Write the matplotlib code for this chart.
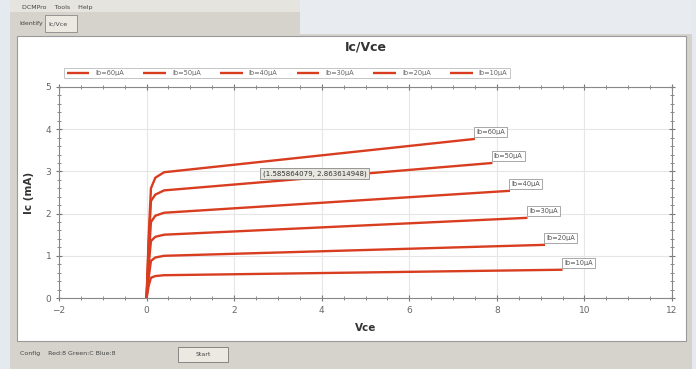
import matplotlib
matplotlib.use("Agg")
import matplotlib.pyplot as plt
from matplotlib.patches import Rectangle
from matplotlib.ticker import MultipleLocator

W, H = 696, 369

# ---- data ----
labels = ["Ib=60µA", "Ib=50µA", "Ib=40µA", "Ib=30µA", "Ib=20µA", "Ib=10µA"]
vce_60 = [0, 0.05, 0.1, 0.2, 0.4, 7.5]
ic_60 = [0, 1.5, 2.6, 2.85, 2.98, 3.77]
vce_50 = [0, 0.05, 0.1, 0.2, 0.4, 7.9]
ic_50 = [0, 1.3, 2.3, 2.45, 2.55, 3.2]
vce_40 = [0, 0.05, 0.1, 0.2, 0.4, 8.3]
ic_40 = [0, 1.0, 1.8, 1.95, 2.02, 2.54]
vce_30 = [0, 0.05, 0.1, 0.2, 0.4, 8.7]
ic_30 = [0, 0.8, 1.35, 1.45, 1.5, 1.9]
vce_20 = [0, 0.05, 0.1, 0.2, 0.4, 9.1]
ic_20 = [0, 0.5, 0.88, 0.96, 1.0, 1.26]
vce_10 = [0, 0.05, 0.1, 0.2, 0.4, 9.5]
ic_10 = [0, 0.3, 0.48, 0.52, 0.54, 0.67]
series_vce = [vce_60, vce_50, vce_40, vce_30, vce_20, vce_10]
series_ic = [ic_60, ic_50, ic_40, ic_30, ic_20, ic_10]
tooltip = "(1.585864079, 2.863614948)"

fig = plt.figure(figsize=(W / 100, H / 100), dpi=100)
fig.patch.set_facecolor("#e4eaf0")

def px_rect(x0, y0, x1, y1, **kw):
    r = Rectangle((x0 / W, 1 - y1 / H), (x1 - x0) / W, (y1 - y0) / H,
                  transform=fig.transFigure, zorder=-5, **kw)
    fig.patches.append(r)

def px_text(x, y, s, **kw):
    fig.text(x / W, 1 - y / H, s, **kw)

# window chrome
px_rect(10, 0, 692, 369, facecolor="#d6d3cc", edgecolor="none")
px_rect(10, 0, 692, 12, facecolor="#e6e4df", edgecolor="none")
px_rect(300, 0, 692, 34, facecolor="#e8ecf0", edgecolor="none")
px_rect(17, 36, 686, 341, facecolor="white", edgecolor="#9a9a9a", linewidth=0.8)
px_rect(45, 15, 77, 32, facecolor="#ece9e3", edgecolor="#888888", linewidth=0.6)
px_text(22, 7, "DCMPro    Tools    Help", fontsize=4.5, color="#444444", va="center")
px_text(19, 24, "Identify", fontsize=4.5, color="#444444", va="center")
px_text(48, 24, "Ic/Vce", fontsize=4.5, color="#444444", va="center")
px_text(20, 354, "Config    Red:8 Green:C Blue:8", fontsize=4.5, color="#444444", va="center")
px_rect(178, 347, 228, 362, facecolor="#ece9e3", edgecolor="#777777", linewidth=0.6)
px_text(203, 354.5, "Start", fontsize=4.5, color="#444444", va="center", ha="center")

# main axes
ax = fig.add_axes([59 / W, 1 - 298 / H, (672 - 59) / W, (298 - 87) / H])
ax.set_facecolor("white")
line_color = "#d83d20"
for v, i, lab in zip(series_vce, series_ic, labels):
    ax.plot(v, i, color=line_color, lw=1.7, label=lab, solid_capstyle="butt")
    ax.annotate(lab, (v[-1], i[-1]), xytext=(1, 5), textcoords="offset points",
                fontsize=4.8, color="#555555", ha="left", va="center",
                bbox=dict(boxstyle="square,pad=0.3", fc="white", ec="#999999", lw=0.6))

ax.text(2.65, 2.95, tooltip, fontsize=5.0, color="#333333", va="center", ha="left",
        bbox=dict(boxstyle="square,pad=0.35", fc="#e8e8e0", ec="#888888", lw=0.6))

ax.set_xlim(-2, 12)
ax.set_ylim(0, 5)
ax.xaxis.set_major_locator(MultipleLocator(2))
ax.xaxis.set_minor_locator(MultipleLocator(0.5))
ax.yaxis.set_major_locator(MultipleLocator(1))
ax.yaxis.set_minor_locator(MultipleLocator(0.2))
ax.grid(True, which="major", color="#e6e6e6", lw=0.8)
ax.tick_params(which="both", direction="inout", top=True, right=True,
               colors="#777777", labelcolor="#666666", labelsize=6.5)
ax.tick_params(which="major", length=4)
ax.tick_params(which="minor", length=2.5)
for s in ax.spines.values():
    s.set_color("#888888")
    s.set_linewidth(0.8)
ax.set_xlabel("Vce", fontsize=7.5, color="#333333", fontweight="bold", labelpad=6)
ax.set_ylabel("Ic (mA)", fontsize=7.5, color="#333333", fontweight="bold", labelpad=8)
ax.set_title("Ic/Vce", fontsize=9, color="#333333", fontweight="bold", pad=26)

leg = ax.legend(loc="lower left", bbox_to_anchor=(0.003, 1.025), ncol=6, fontsize=4.8,
                frameon=True, fancybox=False, edgecolor="#aaaaaa", handlelength=3.4,
                columnspacing=2.9, borderpad=0.35, handletextpad=0.9, labelcolor="#666666")
leg.get_frame().set_linewidth(0.6)

fig.savefig("out.png", dpi=100, facecolor=fig.get_facecolor())
